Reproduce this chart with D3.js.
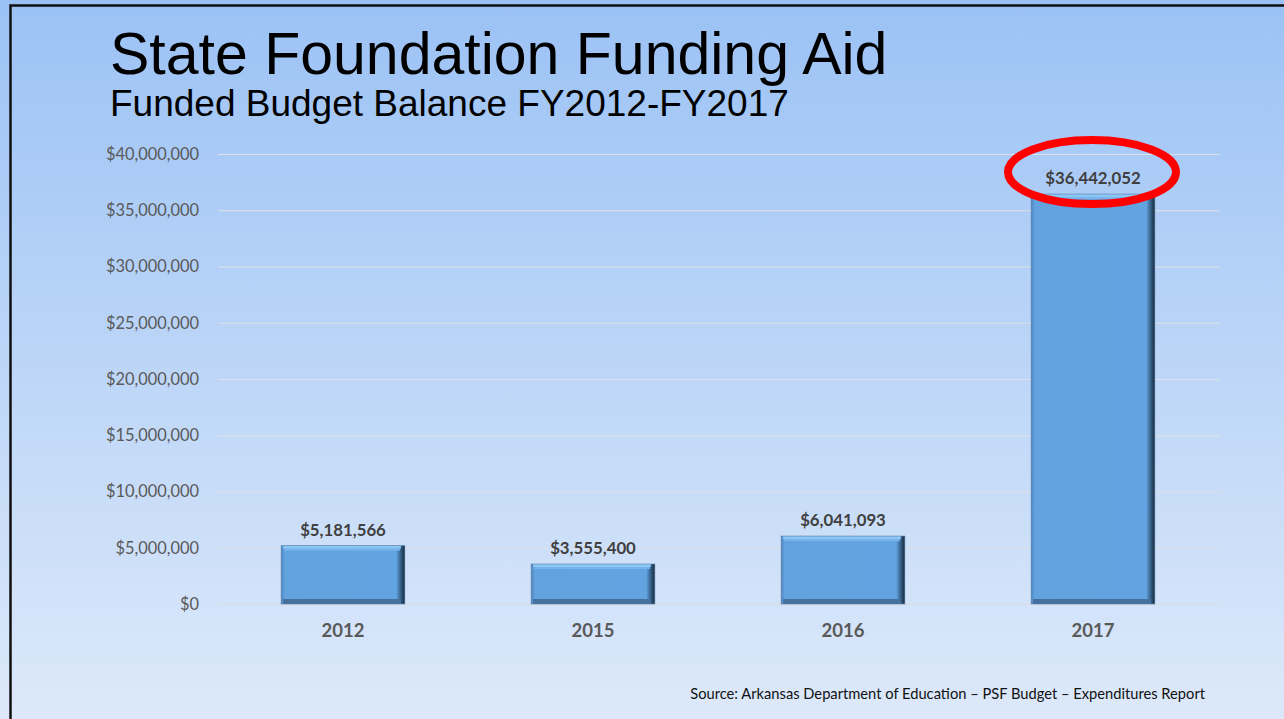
<!DOCTYPE html>
<html><head><meta charset="utf-8">
<script src="https://cdn.jsdelivr.net/npm/d3@7"></script>
<style>html,body{margin:0;padding:0;overflow:hidden;background:#fff}</style>
</head><body>
<svg id="c" width="1284" height="719"></svg>
<script>
const categories = ["2012", "2015", "2016", "2017"];
const values = [5181566, 3555400, 6041093, 36442052];
const yTicks = [0, 5000000, 10000000, 15000000, 20000000, 25000000, 30000000, 35000000, 40000000];
const title = "State Foundation Funding Aid";
const subtitle = "Funded Budget Balance FY2012-FY2017";
const source = "Source: Arkansas Department of Education \u2013 PSF Budget \u2013 Expenditures Report";
const highlight = "2017";

const svg = d3.select("#c");
const defs = svg.append("defs");
const bg = defs.append("linearGradient").attr("id","bg").attr("x1",0).attr("y1",0).attr("x2",0).attr("y2",1);
bg.append("stop").attr("offset","0%").attr("stop-color","#9bc2f5");
bg.append("stop").attr("offset","100%").attr("stop-color","#dde9fa");

const hg = defs.append("linearGradient").attr("id","barH").attr("x1",0).attr("y1",0).attr("x2",1).attr("y2",0);
hg.append("stop").attr("offset","0%").attr("stop-color","#4f86c0");
hg.append("stop").attr("offset","3%").attr("stop-color","#62a2df");
hg.append("stop").attr("offset","93%").attr("stop-color","#62a4e1");
hg.append("stop").attr("offset","96%").attr("stop-color","#3b6a96");
hg.append("stop").attr("offset","100%").attr("stop-color","#17293c");

svg.append("rect").attr("x",0).attr("y",0).attr("width",1284).attr("height",719).attr("fill","url(#bg)");
svg.append("path").attr("d","M10.5,719 L10.5,5.5 L1284,5.5").attr("fill","none").attr("stroke","#111").attr("stroke-width",2.5);

svg.append("text").attr("x",110).attr("y",74).attr("font-family","Liberation Sans, Arial, sans-serif")
  .attr("font-size",59).attr("fill","#000").text(title);
svg.append("text").attr("x",110).attr("y",116).attr("font-family","Liberation Sans, Arial, sans-serif")
  .attr("font-size",37).attr("fill","#000").text(subtitle);

const x = d3.scaleBand().domain(categories).range([218,1218]).paddingInner(0.505).paddingOuter(0.2525);
const y = d3.scaleLinear().domain([0,40000000]).range([604,154]);

const fmt = d3.format("$,");
const font = "Lato, 'Open Sans', sans-serif";

svg.append("g").selectAll("line").data(yTicks).join("line")
  .attr("x1",218).attr("x2",1220).attr("y1",d=>y(d)+0.5).attr("y2",d=>y(d)+0.5)
  .attr("stroke",d=>d===0?"#d9dce0":"#dde1e6").attr("stroke-width",1.2);

const yAxis = d3.axisLeft(y).tickValues(yTicks).tickFormat(fmt).tickSize(0).tickPadding(19);
const ya = svg.append("g").attr("transform","translate(218,0)").call(yAxis);
ya.select(".domain").remove();
ya.selectAll("text").attr("font-family",font).attr("font-size",16.4).attr("fill","#595959");

const xAxis = d3.axisBottom(x).tickSize(0).tickPadding(20);
const xa = svg.append("g").attr("transform","translate(0,604)").call(xAxis);
xa.select(".domain").remove();
xa.selectAll("text").attr("font-family",font).attr("font-size",18.5).attr("font-weight","bold").attr("fill","#595959");

const data = categories.map((c,i)=>({c, v: values[i]}));
const bars = svg.append("g").selectAll("g").data(data).join("g");
bars.append("rect").attr("x",d=>x(d.c)).attr("y",d=>y(d.v)).attr("width",x.bandwidth())
  .attr("height",d=>y(0)-y(d.v)).attr("fill","url(#barH)");
bars.append("rect").attr("x",d=>x(d.c)+2).attr("y",d=>y(d.v)).attr("width",x.bandwidth()-6)
  .attr("height",3).attr("fill","#8cc6f5");
bars.append("rect").attr("x",d=>x(d.c)+3).attr("y",d=>y(d.v)+3).attr("width",x.bandwidth()-8)
  .attr("height",2).attr("fill","#78b3ec");
bars.append("rect").attr("x",d=>x(d.c)+2).attr("y",d=>y(0)-5).attr("width",x.bandwidth()-6)
  .attr("height",5).attr("fill","#44709e");
bars.append("rect").attr("x",d=>x(d.c)).attr("y",d=>y(d.v)).attr("width",x.bandwidth())
  .attr("height",d=>y(0)-y(d.v)).attr("fill","none").attr("stroke","#5a7ea5").attr("stroke-width",0.6);

svg.append("g").selectAll("text").data(data).join("text")
  .attr("x",d=>x(d.c)+x.bandwidth()/2).attr("y",d=>y(d.v)-10)
  .attr("text-anchor","middle").attr("font-family",font).attr("font-size",16.8).attr("font-weight","bold")
  .attr("fill","#404040").text(d=>fmt(d.v));

const hd = data.find(d=>d.c===highlight);
svg.append("ellipse").attr("cx",x(hd.c)+x.bandwidth()/2-1).attr("cy",y(hd.v)-22)
  .attr("rx",84).attr("ry",32).attr("fill","none").attr("stroke","#ff0000").attr("stroke-width",8);

svg.append("text").attr("x",1205).attr("y",699).attr("text-anchor","end").attr("font-family",font)
  .attr("font-size",14.7).attr("fill","#111").text(source);
</script>
</body></html>
